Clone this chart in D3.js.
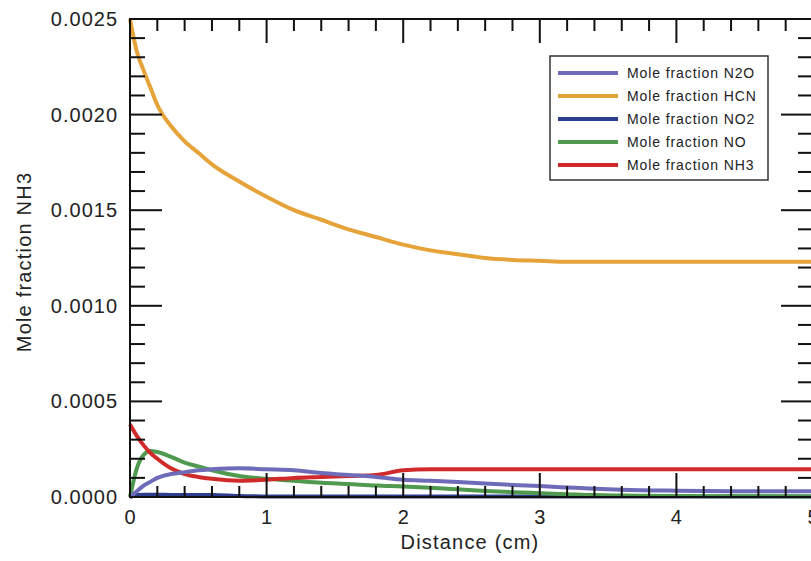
<!DOCTYPE html>
<html>
<head>
<meta charset="utf-8">
<script src="https://cdn.jsdelivr.net/npm/d3@7"></script>
<style>
  html, body { margin: 0; padding: 0; background: #fff; overflow: hidden; }
  svg { display: block; font-family: "Liberation Sans", Arial, sans-serif; }
</style>
</head>
<body>
<svg id="chart" width="811" height="561"></svg>
<script>
// distance grid (cm) shared by every series
const distance = [0, 0.05, 0.1, 0.15, 0.2, 0.3, 0.4, 0.5, 0.6, 0.8, 1.0, 1.2, 1.4, 1.6, 1.8,
  2.0, 2.2, 2.4, 2.6, 2.8, 3.0, 3.2, 3.4, 3.6, 4.0, 4.5, 5.0];

const hcn = [0.0025, 0.00233, 0.00223, 0.00214, 0.00205, 0.00194, 0.00186, 0.0018, 0.00174, 0.00165,
  0.00157, 0.0015, 0.00145, 0.0014, 0.00136, 0.00132, 0.00129, 0.00127, 0.00125, 0.00124, 0.001235,
  0.00123, 0.00123, 0.00123, 0.00123, 0.00123, 0.00123];
const nh3 = [0.00038, 0.00032, 0.00027, 0.00023, 0.0002, 0.00015, 0.00012, 0.000105, 0.000095, 0.000085,
  0.00009, 0.0001, 0.000105, 0.00011, 0.000115, 0.00014, 0.000145, 0.000145, 0.000145, 0.000145, 0.000145,
  0.000145, 0.000145, 0.000145, 0.000145, 0.000145, 0.000145];
const no = [0, 0.00015, 0.00022, 0.00024, 0.000235, 0.00021, 0.00018, 0.00016, 0.00014, 0.00011,
  0.000095, 0.000085, 0.000075, 0.000068, 0.00006, 0.000055, 0.000048, 0.00004, 0.000032, 0.000025, 0.00002,
  0.000015, 0.00001, 0.000008, 0.000005, 0.000004, 0.000003];
const n2o = [0, 0.00003, 0.00006, 0.00008, 0.0001, 0.00012, 0.00013, 0.00014, 0.000145, 0.00015,
  0.000145, 0.00014, 0.000125, 0.000115, 0.000105, 0.00009, 0.000085, 0.000078, 0.00007, 0.000063, 0.000057,
  0.00005, 0.000043, 0.000038, 0.000033, 0.00003, 0.00003];
const no2 = [0, 0.00001, 0.000012, 0.000012, 0.000012, 0.000011, 0.000011, 0.00001, 0.00001, 0.000005,
  0.000003, 0.000002, 0.000002, 0.000002, 0.000002, 0.000002, 0.000002, 0.000002, 0.000002, 0.000002, 0.000002,
  0.000002, 0.000002, 0.000002, 0.000002, 0.000002, 0.000002];

const legendNames = ["Mole fraction N2O", "Mole fraction HCN", "Mole fraction NO2", "Mole fraction NO", "Mole fraction NH3"];
const legendColors = ["#6e6cb8", "#e5a33a", "#2f3d8f", "#4f9a4f", "#d02a2a"];

const xTicks = [0, 1, 2, 3, 4, 5];
const yTicks = [0, 0.0005, 0.001, 0.0015, 0.002, 0.0025];
const yTickLabels = ["0.0000", "0.0005", "0.0010", "0.0015", "0.0020", "0.0025"];

// draw order (back to front)
const drawOrder = [
  { values: no2, color: legendColors[2] },
  { values: no, color: legendColors[3] },
  { values: nh3, color: legendColors[4] },
  { values: n2o, color: legendColors[0] },
  { values: hcn, color: legendColors[1] }
];

const svg = d3.select("#chart");
const pLeft = 130, pTop = 19, pRight = 813, pBottom = 497;

const x = d3.scaleLinear().domain([0, 5]).range([pLeft, pRight]);
const y = d3.scaleLinear().domain([0, 0.0025]).range([pBottom, pTop]);

const line = d3.line()
  .x((d, i) => x(distance[i]))
  .y(d => y(d))
  .curve(d3.curveMonotoneX);

// series
svg.append("g")
  .selectAll("path")
  .data(drawOrder)
  .join("path")
  .attr("d", d => line(d.values))
  .attr("fill", "none")
  .attr("stroke", d => d.color)
  .attr("stroke-width", 4)
  .attr("stroke-linejoin", "round");

// frame + inward ticks
const frame = svg.append("g").attr("stroke", "#111").attr("stroke-width", 2);
frame.append("rect")
  .attr("x", pLeft).attr("y", pTop)
  .attr("width", pRight - pLeft).attr("height", pBottom - pTop)
  .attr("fill", "none");

const xMinor = d3.range(0, 25).map(i => i * 0.2).filter(v => Math.abs(v - Math.round(v)) > 1e-6);
const yMinor = d3.range(0, 25).map(i => i * 0.0001).filter(v => Math.abs(v / 0.0005 - Math.round(v / 0.0005)) > 1e-6);

xTicks.forEach(v => {
  frame.append("line").attr("x1", x(v)).attr("x2", x(v)).attr("y1", pBottom).attr("y2", pBottom - 24);
  frame.append("line").attr("x1", x(v)).attr("x2", x(v)).attr("y1", pTop).attr("y2", pTop + 24);
});
xMinor.forEach(v => {
  frame.append("line").attr("x1", x(v)).attr("x2", x(v)).attr("y1", pBottom).attr("y2", pBottom - 11);
  frame.append("line").attr("x1", x(v)).attr("x2", x(v)).attr("y1", pTop).attr("y2", pTop + 12);
});
yTicks.forEach(v => {
  frame.append("line").attr("x1", pLeft).attr("x2", pLeft + 32).attr("y1", y(v)).attr("y2", y(v));
  frame.append("line").attr("x1", pRight).attr("x2", pRight - 32).attr("y1", y(v)).attr("y2", y(v));
});
yMinor.forEach(v => {
  frame.append("line").attr("x1", pLeft).attr("x2", pLeft + 15).attr("y1", y(v)).attr("y2", y(v));
  frame.append("line").attr("x1", pRight).attr("x2", pRight - 15).attr("y1", y(v)).attr("y2", y(v));
});

// tick labels
svg.append("g")
  .selectAll("text")
  .data(yTicks)
  .join("text")
  .attr("x", pLeft - 12)
  .attr("y", d => y(d))
  .attr("dy", "0.35em")
  .attr("text-anchor", "end")
  .attr("font-size", 20)
  .attr("letter-spacing", 1)
  .attr("fill", "#222")
  .text((d, i) => yTickLabels[i]);

svg.append("g")
  .selectAll("text")
  .data(xTicks)
  .join("text")
  .attr("x", d => x(d))
  .attr("y", pBottom + 27)
  .attr("text-anchor", "middle")
  .attr("font-size", 20)
  .attr("fill", "#222")
  .text(d => d);

// axis titles
svg.append("text")
  .attr("x", 470)
  .attr("y", 549)
  .attr("text-anchor", "middle")
  .attr("font-size", 20)
  .attr("letter-spacing", 1.2)
  .attr("fill", "#222")
  .text("Distance (cm)");

svg.append("text")
  .attr("transform", "translate(31,262) rotate(-90)")
  .attr("text-anchor", "middle")
  .attr("font-size", 20)
  .attr("letter-spacing", 1.2)
  .attr("fill", "#222")
  .text("Mole fraction NH3");

// legend
const lg = svg.append("g");
lg.append("rect")
  .attr("x", 550).attr("y", 56)
  .attr("width", 218).attr("height", 124)
  .attr("fill", "#fff")
  .attr("stroke", "#333")
  .attr("stroke-width", 1.5);

const item = lg.selectAll("g.item")
  .data(legendNames)
  .join("g")
  .attr("class", "item")
  .attr("transform", (d, i) => `translate(0,${73 + i * 23})`);

item.append("line")
  .attr("x1", 558).attr("x2", 618)
  .attr("stroke", (d, i) => legendColors[i])
  .attr("stroke-width", 4);

item.append("text")
  .attr("x", 627)
  .attr("dy", "0.35em")
  .attr("font-size", 14)
  .attr("letter-spacing", 0.9)
  .attr("fill", "#222")
  .text(d => d);
</script>
</body>
</html>
